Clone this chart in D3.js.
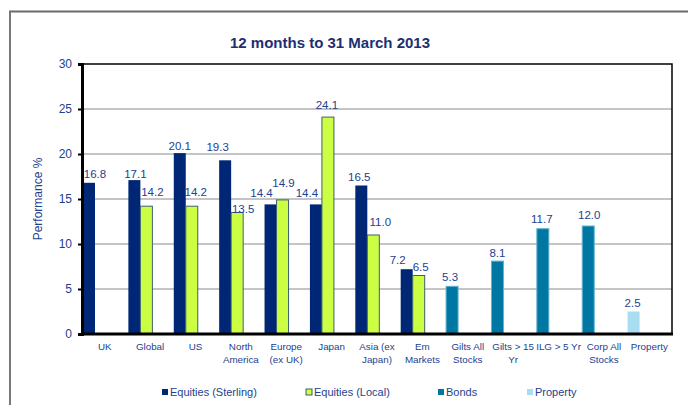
<!DOCTYPE html>
<html>
<head>
<meta charset="utf-8">
<script src="https://cdn.jsdelivr.net/npm/d3@7"></script>
<style>
  html, body { margin: 0; padding: 0; background: #fff; }
  svg { display: block; font-family: "Liberation Sans", Arial, sans-serif; }
</style>
</head>
<body>
<div id="chart"></div>
<script>
(function () {
// ---- data ----
const categories = ["UK", "Global", "US", "North\nAmerica", "Europe\n(ex UK)", "Japan",
  "Asia (ex\nJapan)", "Em\nMarkets", "Gilts All\nStocks", "Gilts > 15\nYr", "ILG > 5 Yr",
  "Corp All\nStocks", "Property"];
const equitiesSterling = [16.8, 17.1, 20.1, 19.3, 14.4, 14.4, 16.5, 7.2, null, null, null, null, null];
const equitiesLocal    = [null, 14.2, 14.2, 13.5, 14.9, 24.1, 11.0, 6.5, null, null, null, null, null];
const bonds            = [null, null, null, null, null, null, null, null, 5.3, 8.1, 11.7, 12.0, null];
const property         = [null, null, null, null, null, null, null, null, null, null, null, null, 2.5];
const seriesNames = ["Equities (Sterling)", "Equities (Local)", "Bonds", "Property"];
const yTicks = [0, 5, 10, 15, 20, 25, 30];
const title = "12 months to 31 March 2013";
const yTitle = "Performance %";

// ---- styling (not data) ----
const styles = [
  { fill: "#002776", stroke: "none", slot: 0 },
  { fill: "#ccff44", stroke: "#3e5f6e", slot: 1 },
  { fill: "#0077a3", stroke: "#5fb4d0", slot: 0 },
  { fill: "#a9ddf1", stroke: "none", slot: 0 }
];
// label nudges relative to bar centre / bar top  [dx, dy]
const labelNudge = {
  "0-0": [6, -5], "0-1": [1, -2], "0-2": [0, -3], "0-3": [-7.5, -9], "0-4": [-9, -7],
  "0-5": [-9, -7], "0-6": [-2, -4.5], "0-7": [-9, -5],
  "1-1": [6, -10], "1-2": [4, -10], "1-3": [6, 0], "1-4": [1, -13], "1-5": [-1, -8],
  "1-6": [7, -9], "1-7": [2, -4.5],
  "2-8": [-2, -5], "2-9": [0, -4], "2-10": [-1, -5.5], "2-11": [1, -7],
  "3-12": [-1, -4.5]
};

const W = 688, H = 405;
const textColor = "#223f8f";
const svg = d3.select("#chart").append("svg").attr("width", W).attr("height", H);

// outer frame
svg.append("path").attr("d", `M10,${H} L10,11.5 L${W},11.5`)
  .attr("fill", "none").attr("stroke", "#6a6a6a").attr("stroke-width", 1.8);

const pLeft = 82, pRight = 672, pTop = 64, pBottom = 334;
const x = d3.scaleBand().domain(d3.range(categories.length)).range([pLeft, pRight]);
const slot = d3.scaleBand().domain([0, 1]).range([1, 25]);
const y = d3.scaleLinear().domain([0, 30]).range([pBottom, pTop]);

// gridlines
svg.append("g").selectAll("line").data(yTicks.filter(t => t > 0 && t < 30)).join("line")
  .attr("x1", pLeft).attr("x2", pRight).attr("y1", d => y(d)).attr("y2", d => y(d))
  .attr("stroke", "#8a8a8a").attr("stroke-width", 1);

// plot border top & right
svg.append("path").attr("d", `M${pLeft},${y(30)} L${pRight},${y(30)} L${pRight},${pBottom}`)
  .attr("fill", "none").attr("stroke", "#000").attr("stroke-width", 1.5);

// title
svg.append("text").attr("x", 330).attr("y", 48).attr("text-anchor", "middle")
  .attr("font-size", 15).attr("font-weight", "bold").attr("fill", "#1c2f72").text(title);

// bars
const allSeries = [equitiesSterling, equitiesLocal, bonds, property];
allSeries.forEach((vals, si) => {
  const st = styles[si];
  const pts = vals.map((v, i) => ({ v, i })).filter(d => d.v != null);
  const g = svg.append("g");
  g.selectAll("rect").data(pts).join("rect")
    .attr("x", d => x(d.i) + slot(st.slot))
    .attr("width", slot.bandwidth())
    .attr("y", d => y(d.v))
    .attr("height", d => y(0) - y(d.v))
    .attr("fill", st.fill)
    .attr("stroke", st.stroke).attr("stroke-width", st.stroke === "none" ? 0 : 1);
  g.selectAll("text").data(pts).join("text")
    .attr("x", d => x(d.i) + slot(st.slot) + slot.bandwidth() / 2 + (labelNudge[si + "-" + d.i] || [0, -4])[0])
    .attr("y", d => y(d.v) + (labelNudge[si + "-" + d.i] || [0, -4])[1])
    .attr("text-anchor", "middle").attr("font-size", 11.5).attr("fill", textColor)
    .text(d => d.v.toFixed(1));
});

// y axis
const yAxis = svg.append("g").attr("transform", `translate(${pLeft},0)`)
  .call(d3.axisLeft(y).tickValues(yTicks).tickSize(4).tickPadding(6).tickFormat(d3.format("d")));
yAxis.select(".domain").attr("stroke", "#000").attr("stroke-width", 3);
yAxis.selectAll(".tick line").attr("stroke", "#000").attr("stroke-width", 2);
yAxis.selectAll(".tick text").attr("font-size", 12).attr("fill", textColor)
  .attr("font-family", "Liberation Sans, Arial, sans-serif");

// x axis line
svg.append("line").attr("x1", pLeft - 1).attr("x2", pRight + 1).attr("y1", pBottom).attr("y2", pBottom)
  .attr("stroke", "#000").attr("stroke-width", 3);

// category labels
const cat = svg.append("g");
categories.forEach((c, i) => {
  const t = cat.append("text").attr("text-anchor", "middle").attr("font-size", 9.8)
    .attr("fill", textColor);
  c.split("\n").forEach((line, li) => {
    t.append("tspan").attr("x", x(i) + x.bandwidth() / 2).attr("y", 350 + li * 13).text(line);
  });
});

// y title
svg.append("text").attr("transform", `translate(42,${(pTop + pBottom) / 2}) rotate(-90)`)
  .attr("text-anchor", "middle").attr("font-size", 12).attr("fill", textColor).text(yTitle);

// legend
const legendX = [162, 306, 438, 527];
seriesNames.forEach((n, i) => {
  const st = styles[i];
  svg.append("rect").attr("x", legendX[i]).attr("y", 389).attr("width", 6).attr("height", 6)
    .attr("fill", st.fill)
    .attr("stroke", i === 1 ? st.stroke : "none").attr("stroke-width", 1);
  svg.append("text").attr("x", legendX[i] + 8).attr("y", 396).attr("font-size", 11)
    .attr("fill", textColor).text(n);
});
})();
</script>
</body>
</html>
